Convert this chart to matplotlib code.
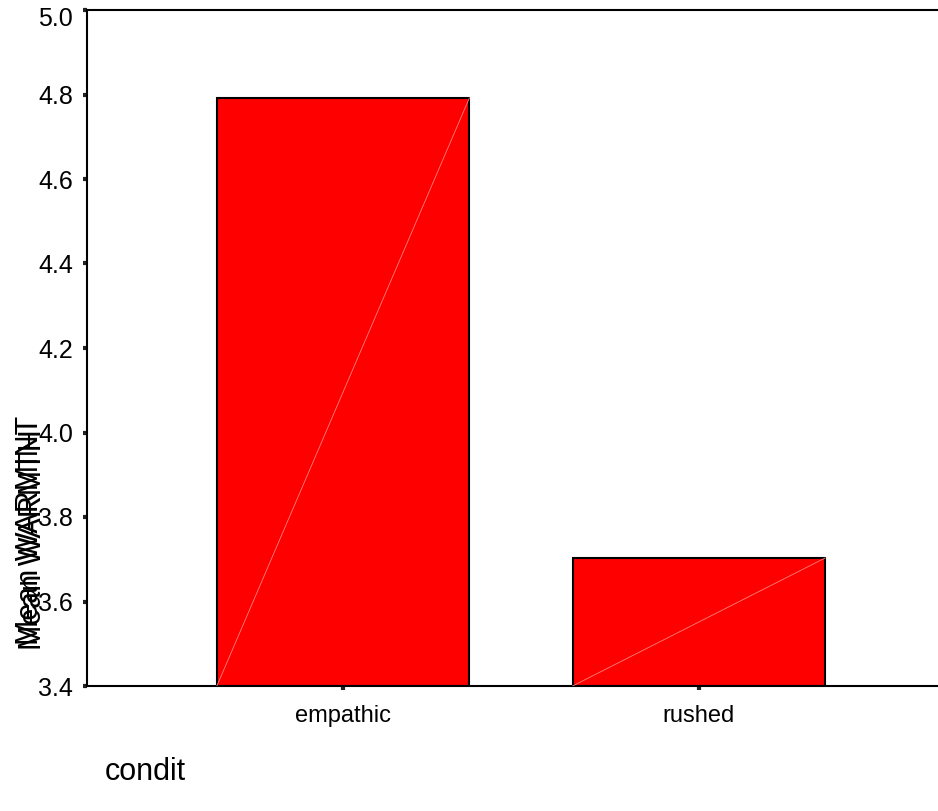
import matplotlib
matplotlib.use("Agg")
import matplotlib.pyplot as plt
import matplotlib.transforms as mtransforms
import numpy as np

categories = ["empathic", "rushed"]
means = [4.792, 3.703]
yticks = [3.4, 3.6, 3.8, 4.0, 4.2, 4.4, 4.6, 4.8, 5.0]
ytick_labels = ["3.4", "3.6", "3.8", "4.0", "4.2", "4.4", "4.6", "4.8", "5.0"]
xlabel = "condit"
ylabels = ["Mean WARMINT", "Mean WARMTH"]

plt.rcParams['font.family'] = ['Liberation Sans', 'DejaVu Sans']

W, H = 938, 811
fig = plt.figure(figsize=(W / 100, H / 100), dpi=100)
left, right_px, top, bottom = 87, 955, 10, 686
ax = fig.add_axes([left / W, (H - bottom) / H, (right_px - left) / W, (bottom - top) / H])

x = np.arange(len(categories))
width = 0.71
ymin = yticks[0]
bars = ax.bar(x, np.array(means) - ymin, bottom=ymin, width=width, color="#ff0000",
              edgecolor="black", linewidth=1.5, zorder=2)
for b in bars:
    x0 = b.get_x()
    x1 = x0 + b.get_width()
    y0 = b.get_y()
    y1 = y0 + b.get_height()
    ax.plot([x0, x1], [y0, y1], color="#ff8080", linewidth=0.6, zorder=3)

ax.set_xlim(-0.72, 1.72)
ax.set_ylim(3.4, 5.0)
ax.set_yticks(yticks)
ax.set_yticklabels(ytick_labels, fontsize=18)
ax.set_xticks(x)
ax.set_xticklabels(categories, fontsize=17)
ax.tick_params(axis='both', direction='out', length=3, width=3, color='#222222')
ax.tick_params(axis='y', pad=7)
ax.tick_params(axis='x', pad=11)
for s in ax.spines.values():
    s.set_linewidth(1.5)
    s.set_color("black")

# top label nudged down so it stays inside the figure, as in the reference
top_lbl = ax.get_yticklabels()[-1]
top_lbl.set_transform(top_lbl.get_transform() +
                      mtransforms.ScaledTranslation(0, -7 / 100, fig.dpi_scale_trans))

fig.text(105 / W, 1 - 772 / H, xlabel, fontsize=22, ha='left', va='center')
fig.text(30 / W, 1 - 530 / H, ylabels[0], fontsize=22, rotation=90, ha='center', va='center')
fig.text(33 / W, 1 - 540 / H, ylabels[1], fontsize=22, rotation=90, ha='center', va='center')

fig.savefig("out.png", dpi=100)
